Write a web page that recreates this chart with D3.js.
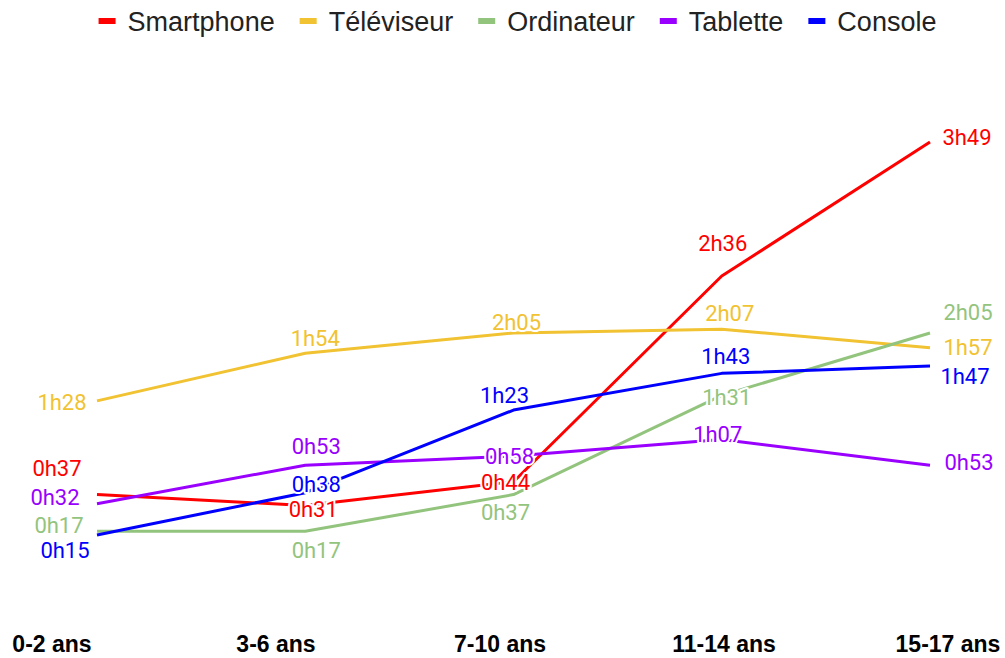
<!DOCTYPE html>
<html>
<head>
<meta charset="utf-8">
<script src="https://cdn.jsdelivr.net/npm/d3@7"></script>
<style>
  body { margin: 0; background: #fff; }
  svg { display: block; }
</style>
</head>
<body>
<div id="chart"></div>
<script>
// age groups
const ages = ["0-2 ans", "3-6 ans", "7-10 ans", "11-14 ans", "15-17 ans"];

// screen time per day, in minutes
const smartphone = [37, 31, 44, 156, 229];
const televiseur = [88, 114, 125, 127, 117];
const ordinateur = [17, 17, 37, 91, 125];
const tablette = [32, 53, 58, 67, 53];
const consoleJeu = [15, 38, 83, 103, 107];

const seriesNames = ["Smartphone", "Téléviseur", "Ordinateur", "Tablette", "Console"];
const seriesColors = ["#ff0000", "#f1c232", "#93c47d", "#9900ff", "#0000ff"];

// label nudges (dx, dy) from each point, so they don't collide
const labelShift = [
    [[-40, -26], [8, 4], [-8, 1], [1, -33], [37, -5]],
    [[-35, 2], [10, -15], [3, -10], [8, -16], [38, 0]],
    [[-38, -6], [11, 19], [-8, 18], [5, 2], [38, -20]],
    [[-42, -6], [11, -19], [-4, 1], [-4, -5], [39, -3]],
    [[-32, 16], [11, -8], [-9, -15], [4, -17], [35, 10]]
];

const allSeries = [smartphone, televiseur, ordinateur, tablette, consoleJeu].map((vals, i) => ({
    name: seriesNames[i],
    color: seriesColors[i],
    values: vals
}));

function fmt(m) {
    let h = Math.floor(m / 60), mm = m % 60;
    return h + "h" + (mm < 10 ? "0" : "") + mm;
}

const width = 1005, height = 658;

const svg = d3.select("#chart").append("svg")
    .attr("width", width)
    .attr("height", height);

const x = d3.scalePoint()
    .domain(ages)
    .range([97, 930]);

// axis labels are spread wider than the points
const xLab = d3.scalePoint()
    .domain(ages)
    .range([52, 948]);

const y = d3.scaleLinear()
    .domain([0, 229])
    .range([562.5, 142]);

// legend
const legend = svg.append("g").attr("class", "legend");
let lx = 0;
allSeries.forEach(s => {
    let g = legend.append("g").attr("transform", `translate(${lx},0)`);
    g.append("rect")
        .attr("x", 0).attr("y", 18)
        .attr("width", 17).attr("height", 6)
        .attr("fill", s.color);
    let t = g.append("text")
        .attr("x", 29).attr("y", 31)
        .attr("font-family", "Liberation Sans, Arial, sans-serif")
        .attr("font-size", 27)
        .attr("fill", "#222")
        .text(s.name);
    lx += 29 + t.node().getComputedTextLength() + 25;
});
let legW = lx - 25;
legend.attr("transform", `translate(${(98 + 937) / 2 - legW / 2},0)`);

// lines
const line = d3.line()
    .x((d, i) => x(ages[i]))
    .y(d => y(d));

svg.selectAll(".serie")
    .data(allSeries)
    .enter().append("path")
    .attr("class", "serie")
    .attr("d", d => line(d.values))
    .attr("fill", "none")
    .attr("stroke", d => d.color)
    .attr("stroke-width", 3)
    .attr("stroke-linejoin", "round");

// value labels
allSeries.forEach((s, si) => {
    svg.append("g").selectAll("text")
        .data(s.values)
        .enter().append("text")
        .attr("x", (d, i) => x(ages[i]) + labelShift[si][i][0])
        .attr("y", (d, i) => y(d) + labelShift[si][i][1])
        .attr("text-anchor", "middle")
        .attr("dominant-baseline", "central")
        .attr("font-family", "Roboto, sans-serif")
        .attr("font-size", 22)
        .attr("fill", s.color)
        .attr("stroke", "#fff")
        .attr("stroke-width", 4)
        .attr("stroke-linejoin", "round")
        .attr("paint-order", "stroke")
        .text(d => fmt(d));
});

// x axis labels
svg.append("g").selectAll("text")
    .data(ages)
    .enter().append("text")
    .attr("x", d => xLab(d))
    .attr("y", 652)
    .attr("text-anchor", "middle")
    .attr("font-family", "Liberation Sans, Arial, sans-serif")
    .attr("font-weight", "bold")
    .attr("font-size", 23)
    .attr("fill", "#000")
    .text(d => d);
</script>
</body>
</html>
